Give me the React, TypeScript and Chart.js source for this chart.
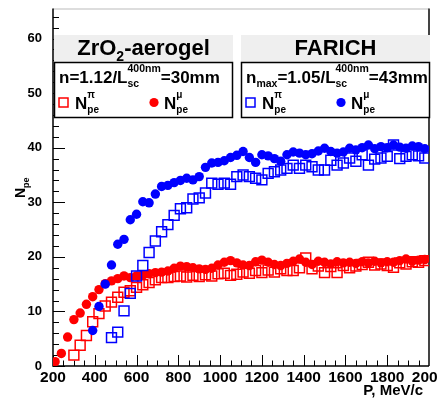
import React, { useEffect, useRef } from "react";
import { Chart, registerables } from "chart.js";

Chart.register(...registerables);

const FONT = '"Liberation Sans", Arial, Helvetica, sans-serif';

// Beam momentum, MeV/c
const momentum = [
  210, 240, 270, 300, 330, 360, 390, 420, 450, 480,
  510, 540, 570, 600, 630, 660, 690, 720, 750, 780,
  810, 840, 870, 900, 930, 960, 990, 1020, 1050, 1080,
  1110, 1140, 1170, 1200, 1230, 1260, 1290, 1320, 1350, 1380,
  1410, 1440, 1470, 1500, 1530, 1560, 1590, 1620, 1650, 1680,
  1710, 1740, 1770, 1800, 1830, 1860, 1890, 1920, 1950, 1980,
];

// Photoelectron yield, ZrO2 aerogel, muons
const aerogelMuon = [
  0.8, 2.3, 5.3, 8.5, 9.7, 11.3, 12.7, 14.0, 15.1, 15.6,
  16.0, 16.5, 16.2, 16.5, 16.7, 16.9, 17.1, 17.2, 17.4, 17.9,
  18.3, 18.2, 18.0, 17.8, 17.7, 17.9, 18.5, 19.0, 19.3, 18.9,
  18.5, 18.4, 19.1, 19.4, 19.0, 18.6, 18.4, 18.8, 19.2, 19.6,
  19.0, 18.6, 19.2, 19.0, 18.7, 19.1, 18.9, 19.0, 18.8, 19.1,
  18.9, 19.2, 18.9, 19.1, 19.0, 19.3, 19.6, 19.2, 19.4, 19.5,
];

// Photoelectron yield, ZrO2 aerogel, pions
const aerogelPion = [
  null, null, null, 2.0, 3.8, 5.6, 8.1, 9.6, 11.0, 11.7,
  12.6, 13.5, 13.8, 14.4, 14.9, 15.3, 15.8, 16.2, 16.2, 16.4,
  16.5, 16.3, 16.6, 16.4, 16.7, 16.5, 16.9, 17.0, 16.6, 16.8,
  17.2, 17.0, 17.5, 17.1, 17.6, 17.2, 17.8, 17.5, 17.5, 18.0,
  19.8, 17.8, 18.3, 17.1, 18.2, 17.1, 18.4, 18.0, 18.3, 18.6,
  19.0, 18.5, 18.7, 18.4, 18.1, 18.9, 18.7, 19.1, 19.0, 19.3,
];

// Photoelectron yield, FARICH, muons
const farichMuon = [
  null, null, null, null, null, null, 6.5, 10.9, 15.0, 18.5,
  22.3, 23.2, 26.8, 27.8, 30.1, 29.9, 31.5, 32.9, 33.1, 33.6,
  34.0, 34.4, 34.1, 34.7, 36.4, 37.2, 37.3, 37.6, 38.2, 38.6,
  39.3, 38.2, 37.3, 38.7, 38.5, 38.0, 37.5, 38.7, 39.2, 39.0,
  38.7, 38.9, 39.4, 39.9, 39.3, 39.0, 39.2, 39.9, 39.6, 40.0,
  40.5, 39.8, 40.2, 40.0, 40.5, 40.1, 39.9, 40.3, 40.2, 39.8,
];

// Photoelectron yield, FARICH, pions
const farichPion = [
  null, null, null, null, null, null, null, null, null, 5.2,
  6.2, 10.1, 13.3, 16.5, 18.4, 20.8, 22.9, 24.6, 25.9, 27.6,
  28.8, 29.0, 30.6, 30.8, 31.7, 33.5, 33.3, 33.5, 33.3, 34.7,
  35.0, 34.7, 34.4, 34.1, 35.3, 35.6, 35.9, 36.2, 36.8, 36.2,
  36.8, 36.5, 35.9, 35.9, 37.7, 36.8, 37.2, 38.1, 37.5, 38.7,
  36.8, 37.9, 38.1, 38.4, 40.5, 38.0, 38.4, 38.7, 38.5, 38.1,
];

const xTickValues = [200, 400, 600, 800, 1000, 1200, 1400, 1600, 1800, 2000];
const yTickValues = [0, 10, 20, 30, 40, 50, 60];

const X_MIN = 200;
const X_MAX = 2000;
const Y_MIN = 0;
const Y_MAX = 65.5;
const X_MINOR = 50;
const Y_MINOR = 2;

const RED = "#ff0000";
const BLUE = "#0000ff";

function toPoints(values: (number | null)[]) {
  const pts: { x: number; y: number }[] = [];
  values.forEach((v, i) => {
    if (v !== null) pts.push({ x: momentum[i], y: v });
  });
  return pts;
}

type Piece = { text?: string; sub?: string; sup?: string };

function drawRich(
  ctx: CanvasRenderingContext2D,
  x: number,
  y: number,
  pieces: Piece[],
  size: number,
  small: number,
  subDy: number,
  supDy: number,
  draw = true
) {
  let cx = x;
  for (const p of pieces) {
    if (p.text) {
      ctx.font = `bold ${size}px ${FONT}`;
      if (draw) ctx.fillText(p.text, cx, y);
      cx += ctx.measureText(p.text).width;
    }
    let w = 0;
    ctx.font = `bold ${small}px ${FONT}`;
    if (p.sub) {
      if (draw) ctx.fillText(p.sub, cx, y + subDy);
      w = Math.max(w, ctx.measureText(p.sub).width);
    }
    if (p.sup) {
      if (draw) ctx.fillText(p.sup, cx, y - supDy);
      w = Math.max(w, ctx.measureText(p.sup).width);
    }
    cx += w;
  }
  return cx - x;
}

// Inward tick marks and the frame, in the ROOT manner
const framePlugin = {
  id: "rootFrame",
  beforeDatasetsDraw(chart: any) {
    const { ctx, chartArea: a, scales } = chart;
    const xs = scales.x;
    const ys = scales.y;
    ctx.save();
    ctx.strokeStyle = "#000";
    ctx.lineWidth = 1;
    for (let v = X_MIN; v <= X_MAX + 0.001; v += X_MINOR) {
      const px = Math.round(xs.getPixelForValue(v)) + 0.5;
      const len = v % 200 === 0 ? 11 : 5.5;
      ctx.beginPath();
      ctx.moveTo(px, a.bottom);
      ctx.lineTo(px, a.bottom - len);
      ctx.stroke();
    }
    for (let v = Y_MIN; v <= Y_MAX; v += Y_MINOR) {
      const py = Math.round(ys.getPixelForValue(v)) + 0.5;
      const len = v % 10 === 0 ? 12 : 6;
      ctx.beginPath();
      ctx.moveTo(a.left, py);
      ctx.lineTo(a.left + len, py);
      ctx.stroke();
    }
    // frame
    ctx.strokeStyle = "#bbb";
    ctx.lineWidth = 1;
    ctx.beginPath();
    ctx.moveTo(a.left, a.top + 0.5);
    ctx.lineTo(a.right, a.top + 0.5);
    ctx.stroke();
    ctx.strokeStyle = "#444";
    ctx.lineWidth = 2;
    ctx.beginPath();
    ctx.moveTo(a.right, a.top);
    ctx.lineTo(a.right, a.bottom);
    ctx.stroke();
    ctx.strokeStyle = "#000";
    ctx.lineWidth = 1.5;
    ctx.beginPath();
    ctx.moveTo(a.left, a.top);
    ctx.lineTo(a.left, a.bottom);
    ctx.lineTo(a.right, a.bottom);
    ctx.stroke();
    ctx.restore();
  },
  afterDraw(chart: any) {
    const { ctx, chartArea: a } = chart;
    ctx.save();
    ctx.textBaseline = "alphabetic";
    ctx.textAlign = "left";

    const drawPanel = (
      left: number,
      right: number,
      title: Piece[],
      line: Piece[],
      color: string
    ) => {
      // title strip
      ctx.fillStyle = "#efefef";
      ctx.fillRect(left, 35, right - left, 27);
      ctx.fillStyle = "#000";
      const tw = drawRich(ctx, 0, 0, title, 22, 14, 6, 0, false);
      drawRich(ctx, (left + right) / 2 - tw / 2, 55, title, 22, 14, 6, 0);
      // boxed legend
      ctx.fillStyle = "#fff";
      ctx.fillRect(left, 62, right - left, 56);
      ctx.strokeStyle = "#000";
      ctx.lineWidth = 1.5;
      ctx.strokeRect(left + 0.5, 62.5, right - left - 1, 55);
      ctx.fillStyle = "#000";
      drawRich(ctx, left + 5, 83, line, 17, 10.5, 4, 11.5);
      // entries
      ctx.strokeStyle = color;
      ctx.lineWidth = 1.5;
      ctx.strokeRect(left + 5, 98, 9, 9);
      ctx.fillStyle = "#000";
      drawRich(ctx, left + 21, 109, [{ text: "N", sub: "pe", sup: "\u03c0" }], 17, 10, 4, 11);
      ctx.fillStyle = color;
      ctx.beginPath();
      ctx.arc(left + 100, 102.5, 4.6, 0, Math.PI * 2);
      ctx.fill();
      ctx.fillStyle = "#000";
      drawRich(ctx, left + 110, 109, [{ text: "N", sub: "pe", sup: "\u03bc" }], 17, 10, 4, 11);
    };

    drawPanel(
      a.left + 1,
      233,
      [{ text: "ZrO", sub: "2" }, { text: "-aerogel" }],
      [{ text: "n=1.12/L", sub: "sc", sup: "400nm" }, { text: "=30mm" }],
      RED
    );
    drawPanel(
      241,
      a.right + 1,
      [{ text: "FARICH" }],
      [
        { text: "n", sub: "max" },
        { text: "=1.05/L", sub: "sc", sup: "400nm" },
        { text: "=43mm" },
      ],
      BLUE
    );

    // axis titles
    ctx.fillStyle = "#000";
    ctx.font = `bold 15px ${FONT}`;
    ctx.textAlign = "right";
    ctx.fillText("P, MeV/c", a.right - 6, 395);
    ctx.textAlign = "left";
    ctx.save();
    ctx.translate(25, 198);
    ctx.rotate(-Math.PI / 2);
    drawRich(ctx, 0, 0, [{ text: "N", sub: "pe" }], 14, 9, 4, 0);
    ctx.restore();
    ctx.restore();
  },
};

export default function App() {
  const canvasRef = useRef<HTMLCanvasElement | null>(null);

  useEffect(() => {
    const canvas = canvasRef.current;
    if (!canvas) return;
    const chart = new Chart(canvas, {
      type: "scatter",
      data: {
        datasets: [
          {
            label: "FARICH pi",
            data: toPoints(farichPion),
            pointStyle: "rect",
            pointRadius: 7,
            borderColor: BLUE,
            backgroundColor: "rgba(0,0,0,0)",
            borderWidth: 1.5,
            order: 0,
          },
          {
            label: "FARICH mu",
            data: toPoints(farichMuon),
            pointStyle: "circle",
            pointRadius: 4.7,
            borderWidth: 0,
            borderColor: BLUE,
            backgroundColor: BLUE,
            order: 1,
          },
          {
            label: "Aerogel pi",
            data: toPoints(aerogelPion),
            pointStyle: "rect",
            pointRadius: 7,
            borderColor: RED,
            backgroundColor: "rgba(0,0,0,0)",
            borderWidth: 1.5,
            order: 2,
          },
          {
            label: "Aerogel mu",
            data: toPoints(aerogelMuon),
            pointStyle: "circle",
            pointRadius: 4.7,
            borderWidth: 0,
            borderColor: RED,
            backgroundColor: RED,
            order: 3,
          },
        ],
      },
      options: {
        animation: false,
        responsive: false,
        events: [],
        layout: { padding: { left: 0, top: 5, right: 9, bottom: 0 } },
        plugins: {
          legend: { display: false },
          tooltip: { enabled: false },
        },
        scales: {
          x: {
            type: "linear",
            min: X_MIN,
            max: X_MAX,
            grid: { display: false },
            border: { display: false },
            afterBuildTicks: (s: any) => {
              s.ticks = xTickValues.map((v) => ({ value: v }));
            },
            afterFit: (s: any) => {
              s.height = 32;
              s.paddingLeft = 0;
              s.paddingRight = 0;
            },
            ticks: {
              color: "#000",
              font: { family: FONT, size: 15.5, weight: "bold" },
              padding: -6,
              maxRotation: 0,
              autoSkip: false,
              callback: (v: any) => String(v),
            },
          },
          y: {
            type: "linear",
            min: Y_MIN,
            max: Y_MAX,
            grid: { display: false },
            border: { display: false },
            afterBuildTicks: (s: any) => {
              s.ticks = yTickValues.map((v) => ({ value: v }));
            },
            afterFit: (s: any) => {
              s.width = 53;
              s.paddingTop = 0;
              s.paddingBottom = 0;
            },
            ticks: {
              color: "#000",
              font: { family: FONT, size: 13, weight: "bold" },
              padding: 3,
              autoSkip: false,
              callback: (v: any) => String(v),
            },
          },
        },
      },
      plugins: [framePlugin],
    } as any);
    return () => chart.destroy();
  }, []);

  return (
    <div style={{ position: "absolute", left: 0, top: 0, width: 438, height: 398, background: "#fff" }}>
      <canvas ref={canvasRef} width={438} height={398} style={{ display: "block" }} />
    </div>
  );
}
